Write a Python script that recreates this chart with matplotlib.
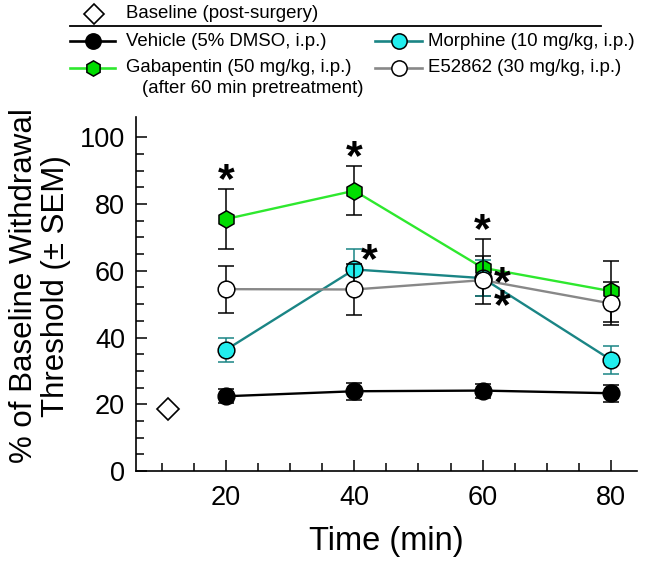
import matplotlib
matplotlib.use("Agg")
import matplotlib.pyplot as plt
from matplotlib.lines import Line2D
import numpy as np

plt.rcParams['font.family'] = ['Liberation Sans', 'DejaVu Sans']

# Data
time = [20, 40, 60, 80]

vehicle = [22.4, 23.9, 24.1, 23.3]
vehicle_err = [2.1, 2.5, 2.1, 2.6]

gabapentin = [75.5, 84.0, 60.9, 53.9]
gabapentin_err = [8.9, 7.4, 8.6, 9.1]

morphine = [36.3, 60.4, 57.8, 33.3]
morphine_err = [3.6, 6.1, 5.5, 4.2]

e52862 = [54.5, 54.4, 57.2, 50.2]
e52862_err = [7.0, 7.5, 7.2, 6.4]

baseline_x = [11]
baseline = [18.5]
baseline_err = [1.0]

# significance stars (x, y, label) in data units
stars = [(20, 89.2, '*'), (40, 96.0, '*'), (60, 74.4, '*'), (42.3, 65.2, '*'),
         (63.1, 58.0, '*\n*')]

W, H = 645, 567
fig = plt.figure(figsize=(W / 100, H / 100), dpi=100)
ax = fig.add_axes([136 / W, 1 - 471 / H, (636.7 - 136) / W, 353.7 / H])

green_line = '#2ee82e'
green_fill = '#00dd00'
teal = '#1a8585'
cyan = '#22eeee'
grey = '#888888'

ms = 12
cap = 5.5
elw = 1.1

def series(y, err, lc, mfc, marker, ecol, z, size=ms):
    ax.errorbar(time, y, yerr=err, color=lc, lw=1.7, marker=marker, ms=size,
                mfc=mfc, mec='black', mew=1.1, ecolor=ecol, elinewidth=elw,
                capsize=cap, capthick=elw, zorder=z)

series(vehicle, vehicle_err, 'black', 'black', 'o', 'black', 3)
series(gabapentin, gabapentin_err, green_line, green_fill, 'h', 'black', 4, 12.5)
series(morphine, morphine_err, teal, cyan, 'o', teal, 5)
series(e52862, e52862_err, grey, 'white', 'o', 'black', 6)

ax.errorbar(baseline_x, baseline, yerr=baseline_err, fmt='D', ms=11, mfc='white',
            mec='black', mew=1.2, ecolor='black', elinewidth=elw, capsize=4, zorder=5)

star_fs = 31
for sx, sy, lab in stars:
    dy = -13.6 if lab == '*' else -29.0
    ax.annotate(lab, (sx, sy), xytext=(0, dy), textcoords='offset points',
                ha='center', va='baseline', fontsize=star_fs, fontweight='bold',
                linespacing=0.43, zorder=8)

ax.set_xlim(6, 84)
ax.set_ylim(0, 106)
ax.set_xticks([20, 40, 60, 80])
ax.set_xticks(np.arange(10, 85, 5), minor=True)
ax.set_yticks([0, 20, 40, 60, 80, 100])
ax.set_yticks(np.arange(0, 105, 5), minor=True)
ax.tick_params(which='both', direction='in', width=1.1, labelsize=19.5, colors='black')
ax.tick_params(which='major', length=8)
ax.tick_params(which='minor', length=5.5)
ax.tick_params(axis='x', pad=10)
ax.tick_params(axis='y', pad=8)

for side in ['top', 'right']:
    ax.spines[side].set_visible(False)
for side in ['left', 'bottom']:
    ax.spines[side].set_linewidth(1.2)

ax.set_xlabel('Time (min)', fontsize=23.5, labelpad=11)
fig.text(40 / W, 1 - 286 / H, '% of Baseline Withdrawal\nThreshold (\u00b1 SEM)',
         rotation=90, ha='center', va='center', fontsize=22.5, linespacing=1.05,
         multialignment='center')

# legend, drawn by hand at the top of the figure
def fx(x):
    return x / W

def fy(y):
    return 1 - y / H

leg_fs = 13.4

def handle(x0, x1, y, lc, mfc, marker, size=11):
    fig.add_artist(Line2D([fx(x0), fx(x1)], [fy(y), fy(y)], color=lc, lw=1.9,
                          transform=fig.transFigure))
    fig.add_artist(Line2D([fx((x0 + x1) / 2)], [fy(y)], marker=marker, ms=size,
                          mfc=mfc, mec='black', mew=1.1, transform=fig.transFigure))

fig.add_artist(Line2D([fx(94)], [fy(13.5)], marker='D', ms=10.5, mfc='white', mec='black',
                      mew=1.2, transform=fig.transFigure))
fig.text(fx(126), fy(13.5), 'Baseline (post-surgery)', fontsize=leg_fs, va='center')
fig.add_artist(Line2D([fx(70), fx(601)], [fy(26), fy(26)], color='black', lw=1.3,
                      transform=fig.transFigure))

handle(70, 115, 41, 'black', 'black', 'o')
fig.text(fx(126), fy(41), 'Vehicle (5% DMSO, i.p.)', fontsize=leg_fs, va='center')
handle(70, 115, 68, green_line, green_fill, 'h', 11)
fig.text(fx(126), fy(68), 'Gabapentin (50 mg/kg, i.p.)', fontsize=leg_fs, va='center')
fig.text(fx(142), fy(88.5), '(after 60 min pretreatment)', fontsize=leg_fs, va='center')
handle(375, 422, 41, teal, cyan, 'o')
fig.text(fx(428), fy(41), 'Morphine (10 mg/kg, i.p.)', fontsize=leg_fs, va='center')
handle(375, 422, 68, grey, 'white', 'o')
fig.text(fx(428), fy(68), 'E52862 (30 mg/kg, i.p.)', fontsize=leg_fs, va='center')

fig.savefig('out.png', dpi=100, facecolor='white')
